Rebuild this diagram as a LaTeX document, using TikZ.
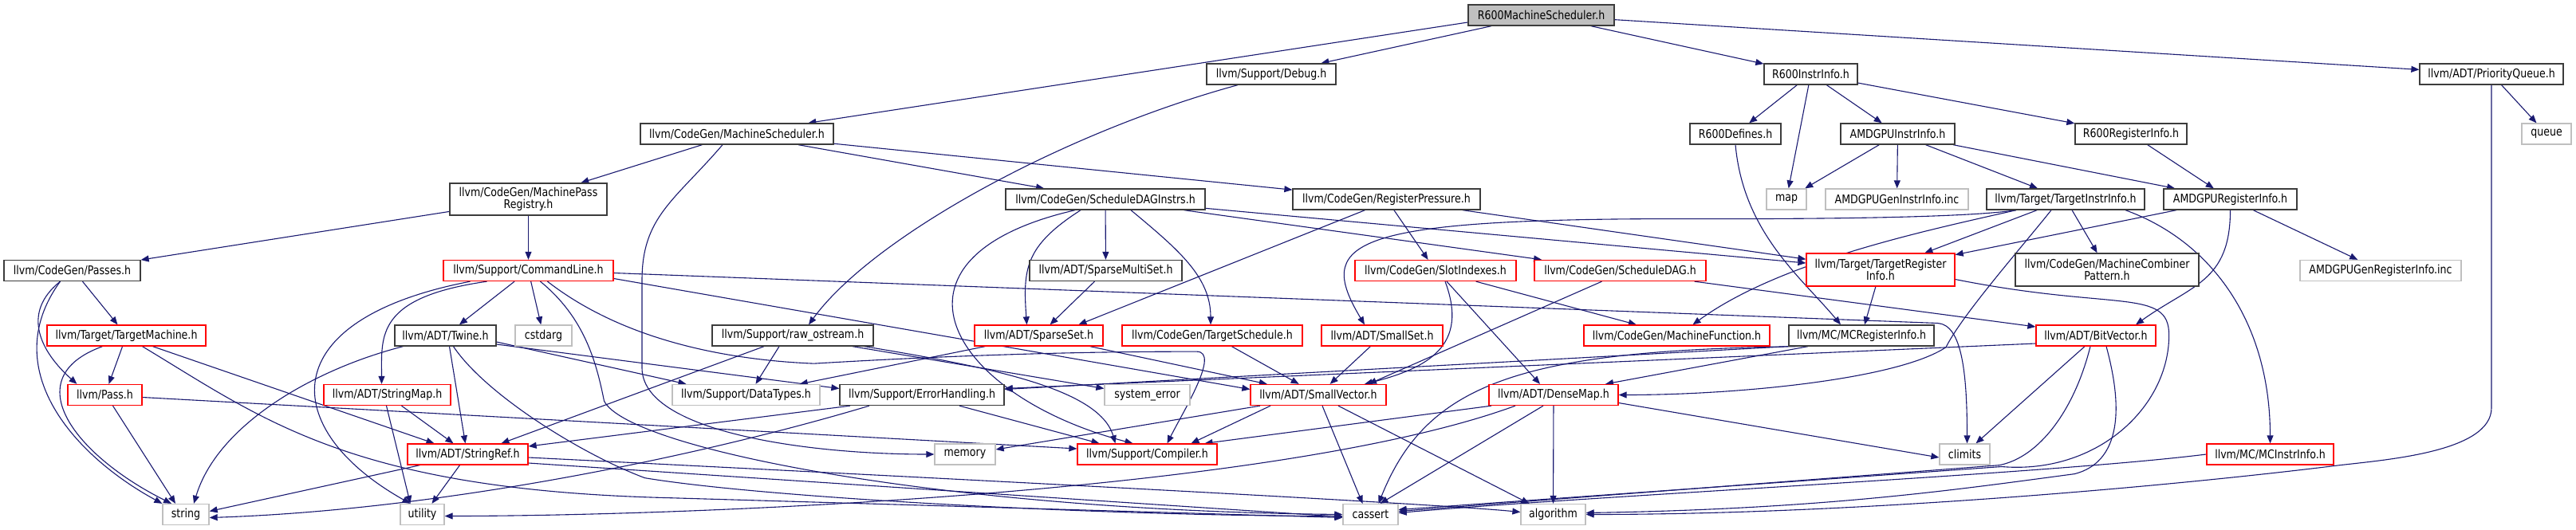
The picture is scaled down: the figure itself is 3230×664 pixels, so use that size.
\documentclass[tikz,border=0pt]{standalone}
\usepackage{fontspec}
\newfontfamily\dotfont{DejaVu Sans}[FakeStretch=0.84]
\usetikzlibrary{arrows.meta, backgrounds}
\definecolor{edgeblue}{HTML}{191970}
\definecolor{boxred}{HTML}{FF0000}
\definecolor{boxgray}{HTML}{BFBFBF}
\definecolor{boxblack}{HTML}{3C3C3C}

\begin{document}
\begin{tikzpicture}[
    x=1pt, y=1pt,
    >={Stealth[length=10pt, width=8pt, inset=0pt]},
    filebox/.style={
        draw=boxblack, fill=white, line width=1.3pt,
        minimum height=26, inner sep=1pt, align=center,
        font=\dotfont\fontsize{15}{15}\selectfont
    },
    cutbox/.style={filebox, draw=boxred},
    sysbox/.style={filebox, draw=boxgray},
    rootbox/.style={filebox, fill=boxgray},
    incl/.style={->, draw=edgeblue, line width=1.1pt},
]

\useasboundingbox (0,0) rectangle (3230,-664);

% ===================================================================
% NODES, row by row
% ===================================================================

% Root
\node[rootbox, minimum width=183] (r600-sched) at (1932.5,-19) {R600MachineScheduler.h};

% Row 1
\node[filebox, minimum width=162] (debug) at (1594,-93) {llvm/Support/Debug.h};
\node[filebox, minimum width=117] (r600-instr) at (2270.5,-93) {R600InstrInfo.h};
\node[filebox, minimum width=180] (prio-queue) at (3124,-93) {llvm/ADT/PriorityQueue.h};

% Row 2
\node[filebox, minimum width=242] (mach-sched) at (924,-168) {llvm/CodeGen/MachineScheduler.h};
\node[filebox, minimum width=114] (r600-defines) at (2176,-168) {R600Defines.h};
\node[filebox, minimum width=143] (amdgpu-instr) at (2379.5,-168) {AMDGPUInstrInfo.h};
\node[filebox, minimum width=140] (r600-reg) at (2672,-168) {R600RegisterInfo.h};
\node[sysbox, minimum width=62] (queue) at (3193,-168) {queue};

% Row 3
\node[filebox, minimum width=197, minimum height=40] (pass-reg) at (662.5,-250)
    {llvm/CodeGen/MachinePass\\Registry.h};
\node[filebox, minimum width=250] (sched-dag-instrs) at (1386,-250) {llvm/CodeGen/ScheduleDAGInstrs.h};
\node[filebox, minimum width=235] (reg-pressure) at (1738.5,-250) {llvm/CodeGen/RegisterPressure.h};
\node[sysbox, minimum width=50] (map) at (2240,-250) {map};
\node[sysbox, minimum width=179] (amdgpu-gen-instr) at (2378.5,-250) {AMDGPUGenInstrInfo.inc};
\node[filebox, minimum width=198] (target-instr) at (2590,-250) {llvm/Target/TargetInstrInfo.h};
\node[filebox, minimum width=167] (amdgpu-reg) at (2796.5,-250) {AMDGPURegisterInfo.h};

% Row 4
\node[filebox, minimum width=171] (passes) at (90.5,-339.5) {llvm/CodeGen/Passes.h};
\node[cutbox, minimum width=213] (cmd-line) at (662.5,-339.5) {llvm/Support/CommandLine.h};
\node[filebox, minimum width=191] (sparse-multi) at (1386.5,-339.5) {llvm/ADT/SparseMultiSet.h};
\node[cutbox, minimum width=202] (slot-idx) at (1800,-339.5) {llvm/CodeGen/SlotIndexes.h};
\node[cutbox, minimum width=215] (sched-dag) at (2031.5,-339.5) {llvm/CodeGen/ScheduleDAG.h};
\node[cutbox, minimum width=186, minimum height=41] (target-reg) at (2358,-338.5)
    {llvm/Target/TargetRegister\\Info.h};
\node[filebox, minimum width=230, minimum height=41] (combiner) at (2642,-338.5)
    {llvm/CodeGen/MachineCombiner\\Pattern.h};
\node[sysbox, minimum width=202] (amdgpu-gen-reg) at (2985,-339.5) {AMDGPUGenRegisterInfo.inc};

% Row 5
\node[cutbox, minimum width=199] (target-mach) at (158.5,-421) {llvm/Target/TargetMachine.h};
\node[filebox, minimum width=127] (twine) at (558.5,-421) {llvm/ADT/Twine.h};
\node[sysbox, minimum width=71] (cstdarg) at (681.5,-421) {cstdarg};
\node[filebox, minimum width=202] (raw-os) at (994,-421) {llvm/Support/raw\_ostream.h};
\node[cutbox, minimum width=161] (sparse-set) at (1302.5,-421) {llvm/ADT/SparseSet.h};
\node[cutbox, minimum width=226] (target-sched) at (1520,-421) {llvm/CodeGen/TargetSchedule.h};
\node[cutbox, minimum width=152] (small-set) at (1733,-421) {llvm/ADT/SmallSet.h};
\node[cutbox, minimum width=233] (mach-func) at (2102.5,-421) {llvm/CodeGen/MachineFunction.h};
\node[filebox, minimum width=182] (mc-reg) at (2334,-421) {llvm/MC/MCRegisterInfo.h};
\node[cutbox, minimum width=150] (bit-vec) at (2628,-421) {llvm/ADT/BitVector.h};

% Row 6
\node[cutbox, minimum width=93] (pass) at (131.5,-495.5) {llvm/Pass.h};
\node[cutbox, minimum width=159] (string-map) at (485.5,-495.5) {llvm/ADT/StringMap.h};
\node[sysbox, minimum width=185] (data-types) at (935.5,-495.5) {llvm/Support/DataTypes.h};
\node[filebox, minimum width=206] (err-handling) at (1156,-495.5) {llvm/Support/ErrorHandling.h};
\node[sysbox, minimum width=107] (sys-error) at (1438.5,-495.5) {system\_error};
\node[cutbox, minimum width=170] (small-vec) at (1653,-495.5) {llvm/ADT/SmallVector.h};
\node[cutbox, minimum width=162] (dense-map) at (1948,-495.5) {llvm/ADT/DenseMap.h};

% Row 7
\node[cutbox, minimum width=151] (string-ref) at (586.5,-570) {llvm/ADT/StringRef.h};
\node[sysbox, minimum width=76] (memory) at (1210,-570) {memory};
\node[cutbox, minimum width=175] (compiler) at (1438.5,-570) {llvm/Support/Compiler.h};
\node[sysbox, minimum width=63] (climits) at (2463.5,-570) {climits};
\node[cutbox, minimum width=159] (mc-instr) at (2846.5,-570) {llvm/MC/MCInstrInfo.h};

% Row 8: system headers
\node[sysbox, minimum width=58] (string) at (233,-645.5) {string};
\node[sysbox, minimum width=55] (utility) at (529.5,-645.5) {utility};
\node[sysbox, minimum width=69] (cassert) at (1718.5,-645.5) {cassert};
\node[sysbox, minimum width=81] (algorithm) at (1947.5,-645.5) {algorithm};

% ===================================================================
% INCLUDE EDGES (behind the boxes)
% ===================================================================
\begin{scope}[on background layer]

    % R600MachineScheduler.h
    \draw[incl] ([yshift=-9]r600-sched.west) -- (mach-sched);
    \draw[incl] (r600-sched) -- (debug);
    \draw[incl] (r600-sched) -- (r600-instr);
    \draw[incl] (r600-sched) -- (prio-queue);

    % Debug.h, R600InstrInfo.h, PriorityQueue.h
    \draw[incl] ([xshift=-42]debug.south) .. controls +(-220,-60) and +(80,110) .. ([xshift=20]raw-os.north);
    \draw[incl] (r600-instr) -- (r600-defines);
    \draw[incl] (r600-instr) -- (map);
    \draw[incl] (r600-instr) -- (amdgpu-instr);
    \draw[incl] (r600-instr) -- (r600-reg);
    \draw[incl] (prio-queue) -- (queue);
    \draw[incl] (prio-queue.south) -- ++(0,-405)
        .. controls +(0,-55) and +(60,7) .. ++(-190,-72)
        .. controls +(-200,-25) and +(350,0) .. (algorithm.east);

    % MachineScheduler.h
    \draw[incl] (mach-sched) -- (pass-reg);
    \draw[incl] ([xshift=-18]mach-sched.south) .. controls +(-60,-70) and +(0,80) .. ++(-101,-170)
        -- ++(0,-110) .. controls +(0,-80) and +(-160,0) .. (memory.west);
    \draw[incl] (mach-sched) -- (sched-dag-instrs);
    \draw[incl] (mach-sched) -- (reg-pressure);

    % MachinePassRegistry.h
    \draw[incl] (pass-reg) -- (passes);
    \draw[incl] (pass-reg) -- (cmd-line);

    % ScheduleDAGInstrs.h
    \draw[incl] (sched-dag-instrs) -- (sparse-multi);
    \draw[incl] ([xshift=-31]sched-dag-instrs.south) .. controls +(-70,-45) and +(-5,70) .. ([xshift=-15]sparse-set.north);
    \draw[incl] ([xshift=-38]sched-dag-instrs.south) .. controls +(-260,-60) and +(-230,60) .. ([xshift=-18]compiler.north);
    \draw[incl] ([xshift=32]sched-dag-instrs.south) .. controls +(60,-50) and +(0,60) .. ([xshift=-2]target-sched.north);
    \draw[incl] (sched-dag-instrs) -- (sched-dag);
    \draw[incl] (sched-dag-instrs) -- (target-reg);

    % RegisterPressure.h
    \draw[incl] ([xshift=-27]reg-pressure.south) -- ([xshift=50]sparse-set.north);
    \draw[incl] (reg-pressure) -- (slot-idx);
    \draw[incl] (reg-pressure) -- (target-reg);

    % AMDGPU headers
    \draw[incl] (amdgpu-instr) -- (map);
    \draw[incl] (amdgpu-instr) -- (amdgpu-gen-instr);
    \draw[incl] (amdgpu-instr) -- (target-instr);
    \draw[incl] (amdgpu-instr) -- (amdgpu-reg);
    \draw[incl] (r600-reg) -- (amdgpu-reg);
    \draw[incl] (amdgpu-reg) -- (target-reg);
    \draw[incl] (amdgpu-reg.south) .. controls +(0,-90) and +(70,50) .. ([xshift=50]bit-vec.north);
    \draw[incl] (amdgpu-reg) -- (amdgpu-gen-reg);

    % TargetInstrInfo.h
    \draw[incl] ([xshift=-62]target-instr.south) .. controls +(-80,-12) and +(120,0) .. ++(-463,-11)
        .. controls +(-380,-2) and +(-60,100) .. ([xshift=-22]small-set.north);
    \draw[incl] (target-instr) -- (target-reg);
    \draw[incl] ([xshift=-62]target-instr.south) .. controls +(-110,-25) and +(110,80) .. ([xshift=20]mach-func.north);
    \draw[incl] ([xshift=-18]target-instr.south) .. controls +(-40,-50) and +(20,40) .. ++(-132,-172)
        .. controls +(-60,-40) and +(150,0) .. (dense-map.east);
    \draw[incl] (target-instr) -- (combiner);
    \draw[incl] ([xshift=75]target-instr.south) .. controls +(110,-40) and +(0,150) .. (mc-instr.north);

    % R600Defines.h
    \draw[incl] (r600-defines.south) .. controls +(10,-110) and +(-50,60) .. ([xshift=-26]mc-reg.north);

    % TargetRegisterInfo.h
    \draw[incl] (target-reg) -- (mc-reg);
    \draw[incl] ([yshift=-12]target-reg.east) .. controls +(200,-40) and +(0,60) .. ++(268,-70)
        .. controls +(0,-90) and +(120,-10) .. ++(-210,-165) -- ([yshift=6]cassert.east);

    % CommandLine.h
    \draw[incl] ([xshift=-73]cmd-line.south) .. controls +(-249,-48) and +(-165,93) .. ([xshift=-15]utility.north);
    \draw[incl] ([xshift=-52]cmd-line.south) .. controls +(-140,-20) and +(0,60) .. ([xshift=-7]string-map.north);
    \draw[incl] (cmd-line) -- (twine);
    \draw[incl] (cmd-line) -- (cstdarg);
    \draw[incl] ([xshift=15]cmd-line.south) .. controls +(55,-45) and +(-10,50) .. ++(80,-150)
        .. controls +(30,-60) and +(-500,5) .. (cassert.west);
    \draw[incl] ([xshift=24]cmd-line.south) .. controls +(90,-70) and +(-120,5) .. ++(334,-103)
        .. controls +(250,15) and +(-60,0) .. ++(480,15)
        .. controls +(30,0) and +(20,40) .. ([xshift=25]compiler.north);
    \draw[incl] ([yshift=-3]cmd-line.east) -- ++(1660,-63)
        .. controls +(30,-2) and +(0,90) .. ([xshift=3]climits.north);
    \draw[incl] ([yshift=-10]cmd-line.east) -- ([yshift=7]small-vec.west);

    % Passes.h
    \draw[incl] ([xshift=-15]passes.south) .. controls +(-80,-110) and +(-110,60) .. (string.north west);
    \draw[incl] ([xshift=-15]passes.south) .. controls +(-50,-40) and +(-45,40) .. ([xshift=-35]pass.north);
    \draw[incl] ([xshift=13]passes.south) -- ([xshift=-11]target-mach.north);

    % TargetMachine.h
    \draw[incl] ([xshift=-30]target-mach.south) .. controls +(-110,-40) and +(-120,60) .. ([xshift=-18]string.north);
    \draw[incl] (target-mach) -- (pass);
    \draw[incl] ([xshift=33]target-mach.south) -- ([xshift=-42]string-ref.north);
    \draw[incl] ([xshift=20]target-mach.south) .. controls +(150,-90) and +(-400,10) .. ++(660,-190)
        -- ([yshift=-4]cassert.west);

    % Twine.h
    \draw[incl] ([xshift=-53]twine.south) .. controls +(-110,-28) and +(30,100) .. ([xshift=10]string.north);
    \draw[incl] ([xshift=5]twine.south) -- ([xshift=-3]string-ref.north);
    \draw[incl] ([xshift=10]twine.south) .. controls +(40,-60) and +(-80,30) .. ++(240,-165)
        .. controls +(150,-25) and +(-300,0) .. ([yshift=-2]cassert.west);
    \draw[incl] ([yshift=-8]twine.east) -- ([xshift=-75]data-types.north);
    \draw[incl] ([yshift=-11]twine.east) -- ([yshift=8]err-handling.west);

    % raw_ostream.h
    \draw[incl] ([xshift=-36]raw-os.south) -- ([xshift=42]string-ref.north);
    \draw[incl] ([xshift=-17]raw-os.south) -- ([xshift=12]data-types.north);
    \draw[incl] ([xshift=75]raw-os.south) -- ([yshift=8]sys-error.west);
    \draw[incl] ([xshift=90]raw-os.south) .. controls +(150,-25) and +(-20,70) .. ([xshift=-40]compiler.north);

    % SparseMultiSet.h, SparseSet.h, TargetSchedule.h, SmallSet.h
    \draw[incl] (sparse-multi) -- (sparse-set);
    \draw[incl] (sparse-set) -- (data-types);
    \draw[incl] (sparse-set) -- (small-vec);
    \draw[incl] (target-sched) -- (small-vec);
    \draw[incl] (small-set) -- (small-vec);

    % SlotIndexes.h, ScheduleDAG.h
    \draw[incl] ([xshift=12]slot-idx.south) .. controls +(30,-80) and +(80,20) .. ([xshift=58]small-vec.north);
    \draw[incl] ([xshift=14]slot-idx.south) -- ([xshift=-17]dense-map.north);
    \draw[incl] (slot-idx) -- (mach-func);
    \draw[incl] ([xshift=-23]sched-dag.south) -- ([xshift=63]small-vec.north);
    \draw[incl] ([xshift=-15]sched-dag.south east) -- ([yshift=11]bit-vec.west);

    % MCRegisterInfo.h
    \draw[incl] (mc-reg.south west) -- ([yshift=7]err-handling.east);
    \draw[incl] ([xshift=-67]mc-reg.south) -- ([xshift=65]dense-map.north);
    \draw[incl] ([xshift=-80]mc-reg.south) .. controls +(-350,-5) and +(60,150) .. ([xshift=10]cassert.north);

    % BitVector.h
    \draw[incl] ([yshift=-10]bit-vec.west) -- ([yshift=8]err-handling.east);
    \draw[incl] ([xshift=-14]bit-vec.south) -- ([xshift=14]climits.north);
    \draw[incl] ([xshift=-7]bit-vec.south) .. controls +(-20,-80) and +(50,10) .. ++(-114,-149)
        -- ([yshift=4]cassert.east);
    \draw[incl] ([xshift=13]bit-vec.south) .. controls +(30,-110) and +(40,10) .. ++(-40,-160)
        .. controls +(-150,-20) and +(300,5) .. ([yshift=2]algorithm.east);

    % MCInstrInfo.h
    \draw[incl] (mc-instr.west) .. controls +(-200,-25) and +(250,22) .. ([yshift=2]cassert.east);

    % Pass.h, StringMap.h, ErrorHandling.h
    \draw[incl] ([xshift=10]pass.south) -- ([xshift=-13]string.north);
    \draw[incl] ([yshift=-3]pass.east) -- ([yshift=7]compiler.west);
    \draw[incl] ([xshift=-1]string-map.south) -- ([xshift=-15]utility.north);
    \draw[incl] ([xshift=18]string-map.south) -- ([xshift=-18]string-ref.north);
    \draw[incl] ([xshift=-90]err-handling.south) -- ([yshift=10]string-ref.east);
    \draw[incl] ([xshift=47]err-handling.south) -- ([xshift=-60]compiler.north);
    \draw[incl] ([xshift=-66]err-handling.south) .. controls +(-200,-60) and +(300,10) .. ([yshift=-4]string.east);

    % SmallVector.h, DenseMap.h
    \draw[incl] ([xshift=-73]small-vec.south) -- ([yshift=6]memory.east);
    \draw[incl] ([xshift=-60]small-vec.south) -- ([xshift=55]compiler.north);
    \draw[incl] ([xshift=5]small-vec.south) -- ([xshift=-10]cassert.north);
    \draw[incl] ([xshift=25]small-vec.south) -- ([xshift=-30]algorithm.north);
    \draw[incl] ([xshift=-78]dense-map.south) -- ([xshift=72]compiler.north);
    \draw[incl] ([xshift=-48]dense-map.south) .. controls +(-300,-110) and +(300,0) .. ([yshift=-2]utility.east);
    \draw[incl] ([xshift=-13]dense-map.south) -- ([xshift=12]cassert.north);
    \draw[incl] (dense-map) -- (algorithm);
    \draw[incl] ([yshift=-10]dense-map.east) -- ([yshift=-4]climits.west);

    % StringRef.h
    \draw[incl] ([xshift=-60]string-ref.south) -- ([yshift=4]string.east);
    \draw[incl] ([xshift=-10]string-ref.south) -- ([xshift=12]utility.north);
    \draw[incl] ([yshift=-11]string-ref.east) -- ([yshift=-3]cassert.west);
    \draw[incl] ([yshift=-4]string-ref.east) .. controls +(600,-30) and +(-100,10) .. ([yshift=3]algorithm.west);

\end{scope}

\end{tikzpicture}
\end{document}
